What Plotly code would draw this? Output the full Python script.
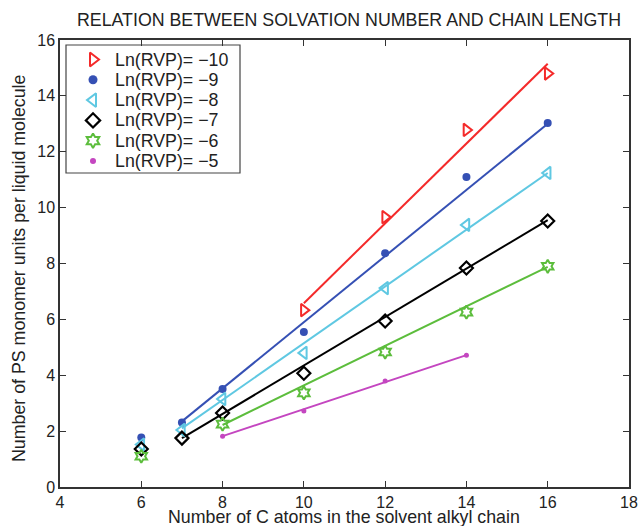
import plotly.graph_objects as go

# ---- data ----
labels = ["Ln(RVP)= \u221210", "Ln(RVP)= \u22129", "Ln(RVP)= \u22128",
          "Ln(RVP)= \u22127", "Ln(RVP)= \u22126", "Ln(RVP)= \u22125"]

x_red = [10, 12, 14, 16]
y_red = [6.33, 9.66, 12.78, 14.8]
x_blue = [6, 7, 8, 10, 12, 14, 16]
y_blue = [1.77, 2.31, 3.51, 5.55, 8.37, 11.1, 13.03]
x_cyan = [6, 7, 8, 10, 12, 14, 16]
y_cyan = [1.52, 2.04, 3.15, 4.8, 7.12, 9.38, 11.24]
x_black = [6, 7, 8, 10, 12, 14, 16]
y_black = [1.36, 1.75, 2.65, 4.07, 5.94, 7.84, 9.52]
x_green = [6, 8, 10, 12, 14, 16]
y_green = [1.1, 2.25, 3.37, 4.83, 6.26, 7.9]
x_mag = [8, 10, 12, 14]
y_mag = [1.82, 2.72, 3.79, 4.72]

# model (fit) lines: x range and y at both ends
fit_x = [[10, 16], [7, 16], [7, 16], [7, 16], [8, 16], [8, 14]]
fit_y = [[6.58, 15.15], [2.35, 13.0], [2.1, 11.24], [1.75, 9.55], [2.22, 7.88], [1.82, 4.72]]

x_ticks = [4, 6, 8, 10, 12, 14, 16, 18]
y_ticks = [0, 2, 4, 6, 8, 10, 12, 14, 16]

# ---- styles ----
xs = [x_red, x_blue, x_cyan, x_black, x_green, x_mag]
ys = [y_red, y_blue, y_cyan, y_black, y_green, y_mag]
colors = ["#f42a2a", "#3550b4", "#5fc8e2", "#000000", "#5cbd3c", "#c446c0"]
symbols = ["triangle-right-open", "circle", "triangle-left-open", "diamond-open",
           "hexagram-open", "circle"]
sizes = [11, 8, 11, 10, 10, 5]
mline = [2, 0, 2, 2.2, 2, 0]

font = "Liberation Sans, Arial, Helvetica, sans-serif"
txt = "#222222"

# plot-area geometry in pixels (for the hand-drawn legend box)
W, H = 638, 526
ML, MR, MT, MB = 60, 9, 40, 39
PW, PH = W - ML - MR, H - MT - MB

fig = go.Figure()
for i in range(6):
    fig.add_trace(go.Scatter(x=fit_x[i], y=fit_y[i], mode="lines",
                             line=dict(color=colors[i], width=2),
                             showlegend=False, hoverinfo="skip"))
for i in range(6):
    fig.add_trace(go.Scatter(x=xs[i], y=ys[i], mode="markers", name=labels[i],
                             showlegend=False,
                             marker=dict(symbol=symbols[i], size=sizes[i], color=colors[i],
                                         line=dict(color=colors[i], width=mline[i]))))

# ---- legend (MATLAB-style box with tight rows) ----
box_l, box_r, box_t, box_b = 66, 240, 45, 173      # pixels
row0, row_gap = 59.5, 20.3                          # pixels
sym_x, text_x = 93, 113                             # pixels


def fx(px):
    return (px - ML) / PW


def fy(py):
    return (H - MB - py) / PH


fig.add_shape(type="rect", xref="paper", yref="paper",
              x0=fx(box_l), x1=fx(box_r), y0=fy(box_b), y1=fy(box_t),
              line=dict(color="#444444", width=1.2), fillcolor="white", layer="below")
for i in range(6):
    yy = fy(row0 + i * row_gap)
    fig.add_trace(go.Scatter(x=[fx(sym_x)], y=[yy], xaxis="x2", yaxis="y2",
                             mode="markers", showlegend=False, hoverinfo="skip",
                             marker=dict(symbol=symbols[i], size=sizes[i] + 1, color=colors[i],
                                         line=dict(color=colors[i], width=mline[i]))))
    fig.add_annotation(text=labels[i], xref="paper", yref="paper", x=fx(text_x), y=yy,
                       xanchor="left", yanchor="middle", showarrow=False,
                       font=dict(size=17.8, family=font, color=txt))

axis_common = dict(showgrid=False, zeroline=False, showline=True, linecolor="#333333",
                   linewidth=1.5, mirror="ticks", ticks="inside", ticklen=6,
                   tickcolor="#333333", tickwidth=1.2, automargin=False,
                   tickfont=dict(size=16, color=txt, family=font))

fig.update_layout(
    width=W, height=H,
    margin=dict(l=ML, r=MR, t=MT, b=MB),
    paper_bgcolor="white", plot_bgcolor="white",
    font=dict(family=font, color=txt),
    title=dict(text="RELATION BETWEEN SOLVATION NUMBER AND CHAIN LENGTH",
               x=0.547, xanchor="center", y=0.962, yanchor="middle",
               font=dict(size=17.8, color=txt, family=font)),
    xaxis=dict(range=[4, 18], tickvals=x_ticks, **axis_common),
    yaxis=dict(range=[0, 16], tickvals=y_ticks, **axis_common),
    xaxis2=dict(range=[0, 1], overlaying="x", anchor="y2", visible=False, fixedrange=True),
    yaxis2=dict(range=[0, 1], overlaying="y", anchor="x2", visible=False, fixedrange=True),
)

# axis titles
fig.add_annotation(text="Number of C atoms in the solvent alkyl chain",
                   xref="paper", yref="paper", x=fx(344), y=fy(517),
                   xanchor="center", yanchor="middle", showarrow=False,
                   font=dict(size=17.8, family=font, color=txt))
fig.add_annotation(text="Number of PS monomer units per liquid molecule",
                   xref="paper", yref="paper", x=fx(19), y=fy(268),
                   xanchor="center", yanchor="middle", showarrow=False, textangle=-90,
                   font=dict(size=17.8, family=font, color=txt))

fig.write_html("out.html", config={"displayModeBar": False},
               post_script="document.body.style.margin='0';document.body.style.padding='0';")
